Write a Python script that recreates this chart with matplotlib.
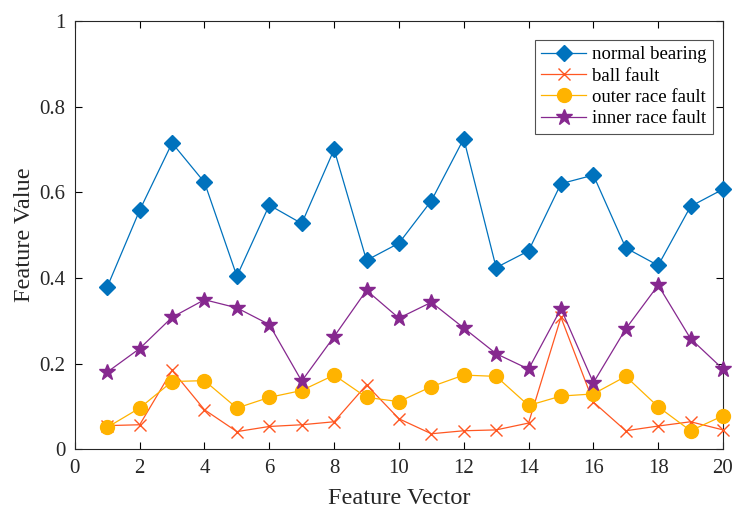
import matplotlib
matplotlib.use("Agg")
import matplotlib.pyplot as plt
import numpy as np

plt.rcParams['font.family'] = ['Liberation Serif', 'DejaVu Serif']
plt.rcParams['mathtext.fontset'] = 'stix'

feature_index = list(range(1, 21))

normal_bearing = [0.379, 0.558, 0.715, 0.623, 0.404, 0.570, 0.527, 0.700, 0.441, 0.481,
                  0.580, 0.725, 0.424, 0.463, 0.620, 0.640, 0.470, 0.429, 0.567, 0.607]
ball_fault = [0.055, 0.057, 0.184, 0.092, 0.041, 0.053, 0.057, 0.064, 0.150, 0.071,
              0.036, 0.043, 0.045, 0.061, 0.308, 0.110, 0.043, 0.054, 0.064, 0.045]
outer_race_fault = [0.051, 0.096, 0.158, 0.160, 0.096, 0.121, 0.137, 0.173, 0.121, 0.111,
                    0.146, 0.173, 0.170, 0.102, 0.124, 0.129, 0.170, 0.099, 0.043, 0.078]
inner_race_fault = [0.180, 0.235, 0.308, 0.349, 0.330, 0.291, 0.159, 0.263, 0.371, 0.306,
                    0.343, 0.283, 0.223, 0.187, 0.328, 0.155, 0.281, 0.383, 0.258, 0.187]

x_ticks = [0, 2, 4, 6, 8, 10, 12, 14, 16, 18, 20]
y_ticks = [0, 0.2, 0.4, 0.6, 0.8, 1]
y_tick_labels = ['0', '0.2', '0.4', '0.6', '0.8', '1']

fig = plt.figure(figsize=(7.34, 5.11), dpi=100)
ax = fig.add_axes([0.102, 0.121, 0.883, 0.838])

ax.plot(feature_index, normal_bearing, color='#0072BD', lw=0.9, marker='D',
        markersize=8.5, label='normal bearing', clip_on=False, zorder=3)
ax.plot(feature_index, ball_fault, color='#FF5722', lw=0.9, marker='x',
        markersize=9, markeredgewidth=1.0, label='ball fault', clip_on=False, zorder=3)
ax.plot(feature_index, outer_race_fault, color='#FFB300', lw=0.9, marker='o',
        markersize=10, label='outer race fault', clip_on=False, zorder=3)
ax.plot(feature_index, inner_race_fault, color='#86288F', lw=0.9, marker='*',
        markersize=12, label='inner race fault', clip_on=False, zorder=3)

ax.set_xlim(0, 20)
ax.set_ylim(0, 1)
ax.set_xticks(x_ticks)
ax.set_yticks(y_ticks)
ax.set_yticklabels(y_tick_labels)
ax.tick_params(direction='in', top=True, right=True, length=5, width=0.8,
               labelsize=15, labelcolor='#262626', pad=7)
for side in ax.spines.values():
    side.set_linewidth(0.8)
    side.set_color('#262626')

ax.set_xlabel('Feature Vector', fontsize=17.5, color='#262626', labelpad=7)
ax.set_ylabel('Feature Value', fontsize=17.5, color='#262626', labelpad=3)

leg = ax.legend(loc='upper right', bbox_to_anchor=(0.99, 0.965), fontsize=13.5,
                frameon=True, fancybox=False, edgecolor='#262626',
                handlelength=2.4, borderpad=0.35, labelspacing=0.22,
                handletextpad=0.3, borderaxespad=0.2)
leg.get_frame().set_linewidth(0.8)

fig.savefig('out.png', dpi=100)
